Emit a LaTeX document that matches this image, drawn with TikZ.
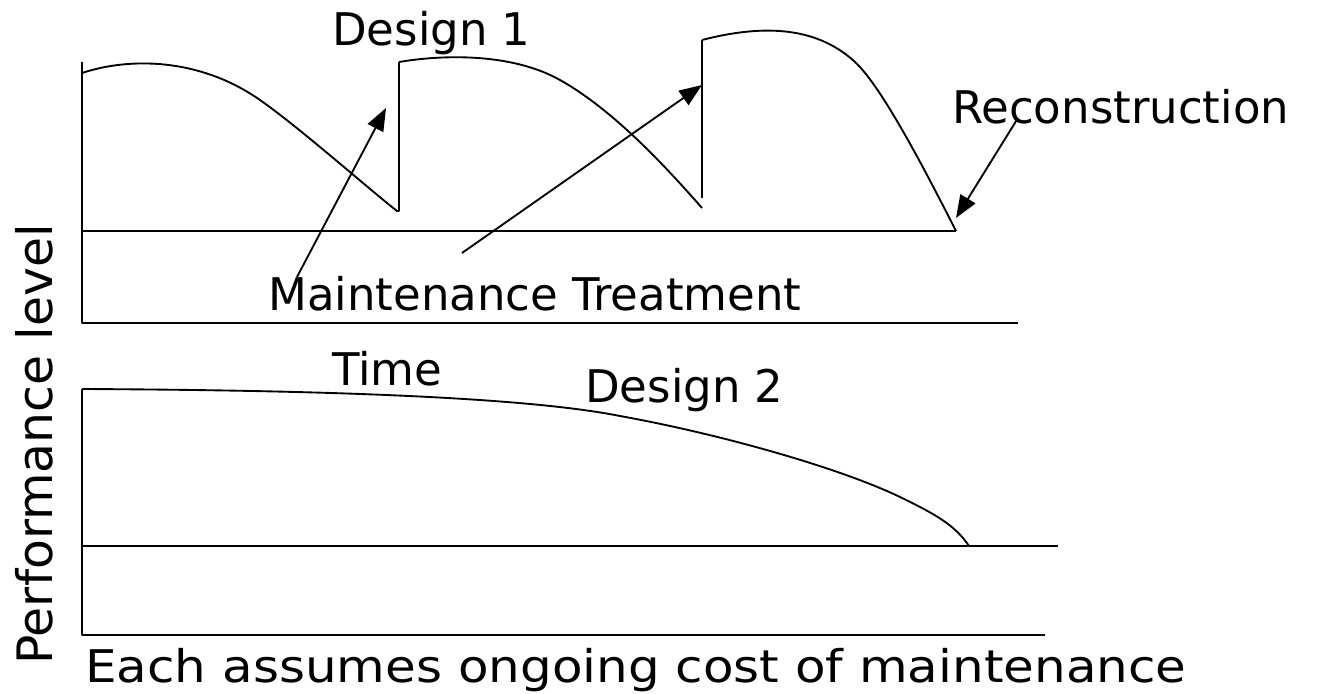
\documentclass[tikz,border=0pt]{standalone}
\usepackage{fontspec}
\setmainfont{DejaVu Sans}
\usetikzlibrary{arrows.meta}
\begin{document}
\begin{tikzpicture}[x=0.75pt,y=-0.75pt,
  line/.style={line width=1.4pt,line join=round},
  pointer/.style={line width=1.4pt,-{Triangle[length=17pt,width=13pt]}},
  label/.style={anchor=base west,inner sep=0pt,font=\fontsize{33.75}{40}\selectfont}]
\useasboundingbox (0,0) rectangle (1318,693);

% ---- upper panel: Design 1 ----
\draw[line] (82,62) -- (82,323) -- (1018,323);
\draw[line] (82,231) -- (956,231);
% three performance cycles, each renewed by a vertical jump
\draw[line] (82,73) .. controls (130,57) and (200,58) .. (260,100)
  .. controls (300,128) and (370,190) .. (397,211) -- (399,211) -- (399,62);
\draw[line] (399,62) .. controls (440,55) and (510,52) .. (560,80)
  .. controls (610,108) and (660,160) .. (702,208);
\draw[line] (702,198) -- (702,40);
\draw[line] (702,40) .. controls (760,25) and (815,25) .. (855,62)
  .. controls (880,85) and (920,160) .. (956,231);

\node[label] (d1) at (332,45) {Design 1};
\node[label] (rec) at (952,123) {Reconstruction};
\node[label] (mt) at (268,310) {Maintenance Treatment};

\coordinate (t1) at (297,277);
\coordinate (h1) at (386,108);
\coordinate (t2) at (462,253);
\coordinate (h2) at (702,85);
\coordinate (t3) at (1018,118);
\coordinate (h3) at (956,218);
\draw[pointer] (t1) -- (h1);
\draw[pointer] (t2) -- (h2);
\draw[pointer] (t3) -- (h3);

% ---- lower panel: Design 2 ----
\draw[line] (82,389) -- (82,635) -- (1045,635);
\draw[line] (82,546) -- (1058,546);
\draw[line] (82,389) .. controls (300,390) and (520,396) .. (620,416)
  .. controls (720,434) and (840,468) .. (900,497)
  .. controls (935,514) and (955,525) .. (969,546);

\node[label] (time) at (332,385) {Time};
\node[label] (d2) at (585,402) {Design 2};
\node[label,xscale=1.11] (note) at (85,682) {Each assumes ongoing cost of maintenance};
\node[label,font=\fontsize{36.6}{40}\selectfont,rotate=90] (perf) at (52,665) {Performance level};
\end{tikzpicture}
\end{document}
